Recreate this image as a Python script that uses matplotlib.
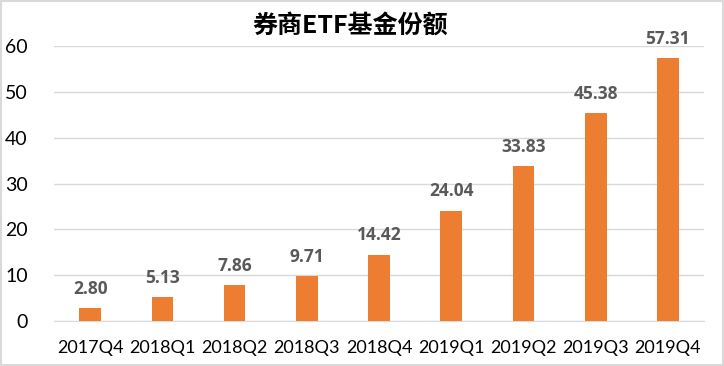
import matplotlib
matplotlib.use("Agg")
import matplotlib.pyplot as plt
from matplotlib.patches import Rectangle

categories = ["2017Q4", "2018Q1", "2018Q2", "2018Q3", "2018Q4",
              "2019Q1", "2019Q2", "2019Q3", "2019Q4"]
values = [2.80, 5.13, 7.86, 9.71, 14.42, 24.04, 33.83, 45.38, 57.31]
yticks = [0, 10, 20, 30, 40, 50, 60]
title = "券商ETF基金份额"

plt.rcParams['font.family'] = ['Lato', 'Noto Sans CJK SC', 'DejaVu Sans']

fig = plt.figure(figsize=(7.24, 3.66), dpi=100)
ax = fig.add_axes([0.0746, 0.123, 0.8978, 0.751])

x = list(range(len(categories)))
ax.bar(x, values, width=0.30, color="#ED7D31", zorder=3)
ax.set_xlim(-0.5, len(categories) - 0.5)
ax.set_ylim(0, 60)
ax.set_yticks(yticks)
ax.set_xticks(x)
ax.set_xticklabels(categories)
ax.yaxis.grid(True, color="#D9D9D9", linewidth=1, zorder=0)
for s in ["top", "right", "left"]:
    ax.spines[s].set_visible(False)
ax.spines["bottom"].set_color("#D9D9D9")
ax.tick_params(axis="both", length=0, labelsize=13, colors="#000000")
ax.tick_params(axis="y", labelsize=14, pad=19)
ax.tick_params(axis="x", pad=14)

for xi, v in zip(x, values):
    ax.annotate(f"{v:.2f}", (xi, v), xytext=(0, 14), textcoords="offset points",
                ha="center", va="center", fontsize=12.5, fontweight="bold",
                family=['Open Sans', 'DejaVu Sans'], color="#595959")

fig.text(0.483, 0.93, title, ha="center", va="center", fontsize=18,
         fontweight="bold", family=['Noto Sans CJK SC', 'DejaVu Sans'],
         color="#000000")

fig.patches.append(Rectangle((0.002, 0.003), 0.996, 0.994, transform=fig.transFigure,
                             fill=False, edgecolor="#D9D9D9", linewidth=1.5))

fig.savefig("out.png", dpi=100)
